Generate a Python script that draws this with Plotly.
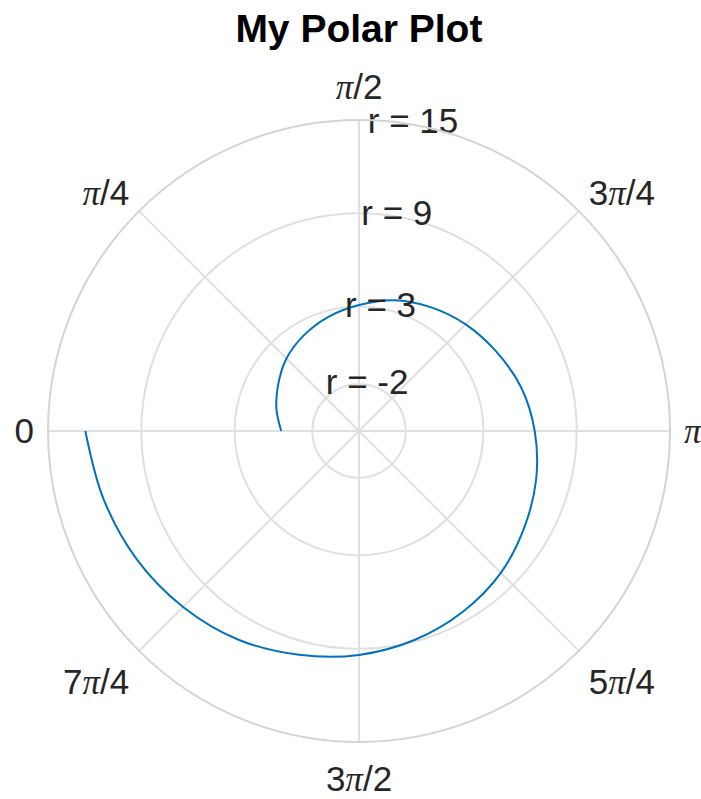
import plotly.graph_objects as go

# Spiral samples: angle (degrees, clockwise from the left) and radius
theta_deg = [0, 15, 30, 45, 60, 75, 90, 105, 120, 135, 150, 165, 180,
             195, 210, 225, 240, 255, 270, 285, 300, 315, 330, 345, 360]
radius = [0.0, 0.5, 1.0, 1.6, 2.1, 2.6, 3.1, 3.7, 4.2, 4.7, 5.2, 5.8, 6.3,
          6.8, 7.3, 7.9, 8.4, 8.9, 9.4, 9.9, 10.5, 11.0, 11.5, 12.0, 12.6]

# Angular ticks
theta_ticks = [0, 45, 90, 135, 180, 225, 270, 315]
PI = "<span style=\"font-family:Liberation Serif;font-style:italic\">π</span>"
theta_labels = ["0", PI + "/4", PI + "/2", "3" + PI + "/4", PI,
                "5" + PI + "/4", "3" + PI + "/2", "7" + PI + "/4"]

# Radial ticks
r_range = [-5, 15]
r_ticks = [-2, 3, 9, 15]
r_labels = ["r = -2", "r = 3", "r = 9", "r = 15"]

# Direction (data degrees) along which the radial tick labels sit
R_LABEL_THETA = 100

GRID = "#e0e0e0"
TEXT = "#262626"
FONT = "Liberation Sans, Arial, sans-serif"

fig = go.Figure()

fig.add_trace(
    go.Scatterpolar(
        theta=theta_deg,
        r=radius,
        mode="lines",
        line=dict(color="#0072BD", width=2, shape="spline"),
        hoverinfo="skip",
    )
)

# Radial tick labels, centred on their rings
fig.add_trace(
    go.Scatterpolar(
        theta=[R_LABEL_THETA] * len(r_ticks),
        r=r_ticks,
        mode="text",
        text=r_labels,
        textposition="middle center",
        textfont=dict(family=FONT, size=35, color=TEXT),
        cliponaxis=False,
        hoverinfo="skip",
    )
)

fig.update_layout(
    width=701,
    height=799,
    margin=dict(l=48, r=31, t=120, b=57),
    paper_bgcolor="white",
    showlegend=False,
    font=dict(family=FONT, size=34, color=TEXT),
    title=dict(
        text="<b>My Polar Plot</b>",
        x=0.512,
        xanchor="center",
        y=0.965,
        yanchor="middle",
        font=dict(family=FONT, size=39, color="black"),
    ),
    polar=dict(
        bgcolor="white",
        domain=dict(x=[0, 1], y=[0, 1]),
        angularaxis=dict(
            rotation=180,
            direction="clockwise",
            tickmode="array",
            tickvals=theta_ticks,
            ticktext=theta_labels,
            showline=True,
            linecolor="#d4d4d4",
            linewidth=2,
            showgrid=True,
            gridcolor=GRID,
            gridwidth=2,
            ticks="outside",
            ticklen=6,
            tickcolor="rgba(0,0,0,0)",
            tickfont=dict(size=35, color=TEXT),
        ),
        radialaxis=dict(
            range=r_range,
            tickmode="array",
            tickvals=r_ticks,
            showticklabels=False,
            showline=False,
            showgrid=True,
            gridcolor=GRID,
            gridwidth=2,
            ticks="",
        ),
    ),
)

fig.write_html("out.html")
